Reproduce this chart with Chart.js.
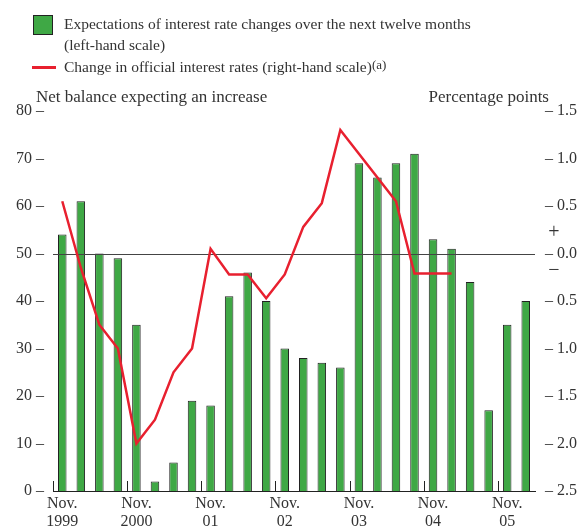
<!DOCTYPE html>
<html>
<head>
<meta charset="utf-8">
<script src="https://cdn.jsdelivr.net/npm/chart.js@4/dist/chart.umd.min.js"></script>
<style>
  html, body { margin: 0; padding: 0; background: #fff; }
  #wrap { position: relative; width: 582px; height: 527px; font-family: "Liberation Serif", serif; color: #333; }
  canvas { position: absolute; left: 0; top: 0; }
  .t { position: absolute; white-space: nowrap; font-size: 15.5px; line-height: 18px; }
  .h { font-size: 17px; }
  .sw { position: absolute; left: 33px; top: 15px; width: 18px; height: 18px; background: #3fa845; border: 1px solid #222; }
  .ln { position: absolute; left: 32px; top: 66px; width: 24px; height: 3px; background: #e8202f; }
  sup { font-size: 13px; position: relative; top: -2px; vertical-align: top; }
</style>
</head>
<body>
<div id="wrap">
  <canvas id="c" width="582" height="527"></canvas>
  <div class="sw"></div>
  <div class="t" style="left:64px;top:15px;">Expectations of interest rate changes over the next twelve months</div>
  <div class="t" style="left:64px;top:36px;">(left-hand scale)</div>
  <div class="ln"></div>
  <div class="t" style="left:64px;top:58px;">Change in official interest rates (right-hand scale)<sup>(a)</sup></div>
  <div class="t h" style="left:36px;top:88px;">Net balance expecting an increase</div>
  <div class="t h" style="right:33px;top:88px;">Percentage points</div>
</div>
<script>
const categories = ['Nov 1999','Feb 2000','May 2000','Aug 2000','Nov 2000','Feb 2001','May 2001','Aug 2001',
  'Nov 2001','Feb 2002','May 2002','Aug 2002','Nov 2002','Feb 2003','May 2003','Aug 2003',
  'Nov 2003','Feb 2004','May 2004','Aug 2004','Nov 2004','Feb 2005','May 2005','Aug 2005',
  'Nov 2005','Feb 2006'];
const xTickLabels = [['Nov.','1999'],'','','',['Nov.','2000'],'','','',['Nov.','01'],'','','',
  ['Nov.','02'],'','','',['Nov.','03'],'','','',['Nov.','04'],'','','',['Nov.','05'],''];
const expectations = [54,61,50,49,35,2,6,19,18,41,46,40,30,28,27,26,69,66,69,71,53,51,44,17,35,40];
const rateChange = [0.55,-0.15,-0.75,-1.0,-2.0,-1.75,-1.25,-1.0,0.05,-0.22,-0.22,-0.47,-0.22,0.28,0.53,1.3,
  1.05,0.8,0.55,-0.21,-0.21,-0.21,null,null,null,null];
const leftTicks = [0,10,20,30,40,50,60,70,80];
const rightTicks = [-2.5,-2.0,-1.5,-1.0,-0.5,0.0,0.5,1.0,1.5];

const FONT = { family: 'Liberation Serif', size: 16, lineHeight: 1.1 };
const TXT = '#333';

const extras = {
  id: 'extras',
  afterDatasetDraw(chart, args) {
    if (args.index !== 0) return;
    const ctx = chart.ctx, a = chart.chartArea, y = chart.scales.y;
    const yz = Math.round(y.getPixelForValue(50)) + 0.5;
    ctx.save();
    ctx.strokeStyle = '#444'; ctx.lineWidth = 1;
    ctx.beginPath(); ctx.moveTo(a.left, yz); ctx.lineTo(a.right, yz); ctx.stroke();
    ctx.restore();
  },
  afterDraw(chart) {
    const ctx = chart.ctx, a = chart.chartArea, x = chart.scales.x, y1 = chart.scales.y1;
    ctx.save();
    ctx.strokeStyle = '#222'; ctx.lineWidth = 1;
    const step = x.getPixelForValue(1) - x.getPixelForValue(0);
    xTickLabels.forEach((l, i) => {
      if (!l) return;
      const px = Math.round(x.getPixelForValue(i) - step / 2) + 0.5;
      ctx.beginPath(); ctx.moveTo(px, a.bottom); ctx.lineTo(px, a.bottom - 10); ctx.stroke();
    });
    ctx.fillStyle = TXT;
    ctx.font = '20px "Liberation Serif"';
    ctx.textAlign = 'center'; ctx.textBaseline = 'middle';
    ctx.fillText('+', a.right + 19, y1.getPixelForValue(0.22));
    ctx.fillText('\u2212', a.right + 19, y1.getPixelForValue(-0.18));
    ctx.restore();
  }
};

new Chart(document.getElementById('c'), {
  data: {
    labels: categories,
    datasets: [
      { type: 'bar', label: 'Expectations', data: expectations, yAxisID: 'y', order: 2,
        backgroundColor: '#3fa845', borderColor: '#222', borderWidth: 1,
        barPercentage: 0.46, categoryPercentage: 1 },
      { type: 'line', label: 'Change in official interest rates', data: rateChange, yAxisID: 'y1', order: 1,
        borderColor: '#e8202f', borderWidth: 2.5, pointRadius: 0, tension: 0, spanGaps: false }
    ]
  },
  options: {
    responsive: false, animation: false,
    layout: { padding: { top: 111, bottom: 0, left: 0, right: 0 } },
    plugins: { legend: { display: false }, tooltip: { enabled: false } },
    scales: {
      x: {
        offset: true,
        grid: { display: false, drawTicks: false },
        border: { display: true, color: '#222', width: 1 },
        ticks: { autoSkip: false, maxRotation: 0, color: TXT, font: FONT, padding: 4,
          callback: (v, i) => xTickLabels[i] },
        afterFit: s => { s.height = 36; }
      },
      y: {
        position: 'left', min: 0, max: 80,
        grid: { display: false, drawTicks: false },
        border: { display: false },
        afterBuildTicks: s => { s.ticks = leftTicks.map(v => ({ value: v })); },
        ticks: { color: TXT, font: FONT, padding: 9, callback: v => v + ' \u2013' },
        afterFit: s => { s.width = 53; }
      },
      y1: {
        position: 'right', min: -2.5, max: 1.5,
        grid: { display: false, drawTicks: false },
        border: { display: false },
        afterBuildTicks: s => { s.ticks = rightTicks.map(v => ({ value: v })); },
        ticks: { color: TXT, font: FONT, padding: 10, callback: v => '\u2013 ' + Math.abs(v).toFixed(1) },
        afterFit: s => { s.width = 47; }
      }
    }
  },
  plugins: [extras]
});
</script>
</body>
</html>
